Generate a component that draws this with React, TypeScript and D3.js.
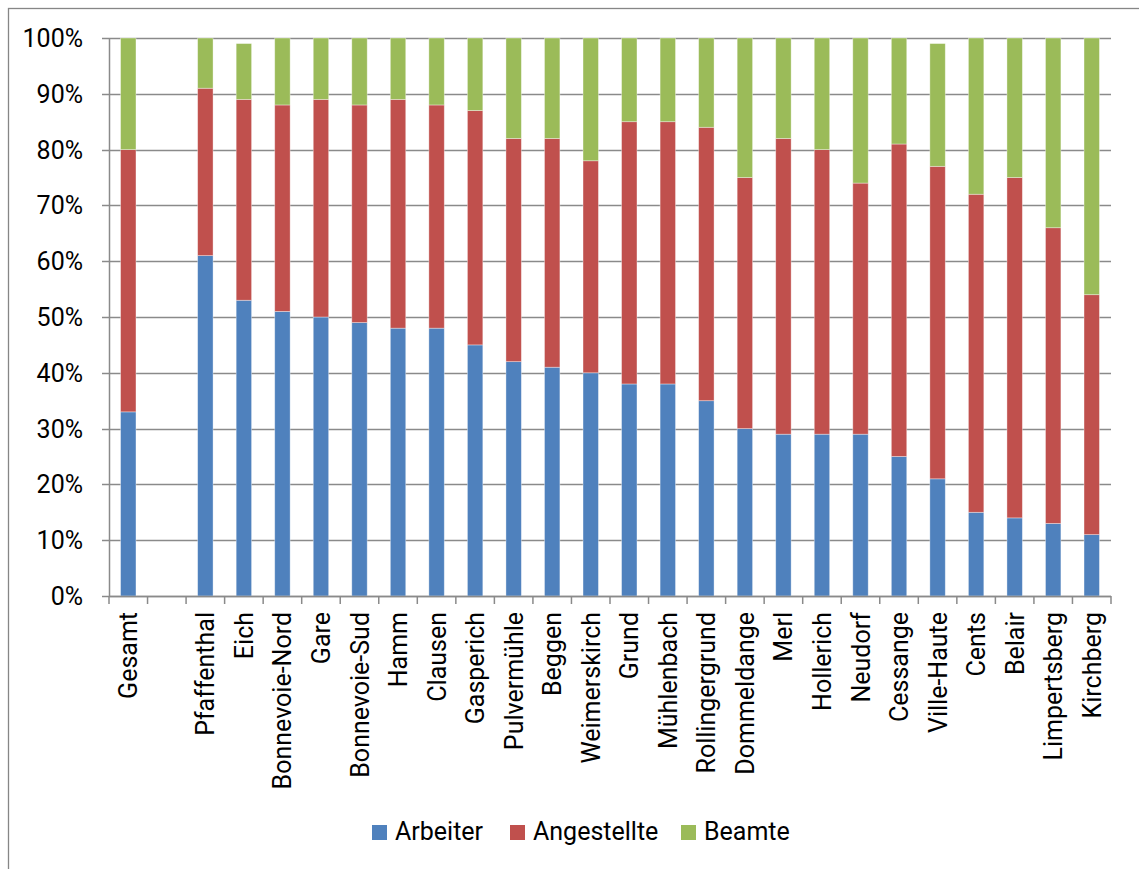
import React from "react";
import * as d3 from "d3";

const categories = ["Gesamt","","Pfaffenthal","Eich","Bonnevoie-Nord","Gare","Bonnevoie-Sud","Hamm","Clausen","Gasperich","Pulvermühle","Beggen","Weimerskirch","Grund","Mühlenbach","Rollingergrund","Dommeldange","Merl","Hollerich","Neudorf","Cessange","Ville-Haute","Cents","Belair","Limpertsberg","Kirchberg"];
const arbeiter = [33,null,61,53,51,50,49,48,48,45,42,41,40,38,38,35,30,29,29,29,25,21,15,14,13,11];
const angestellte = [47,null,30,36,37,39,39,41,40,42,40,41,38,47,47,49,45,53,51,45,56,56,57,61,53,43];
const beamte = [20,null,9,10,12,11,12,11,12,13,18,18,22,15,15,16,25,18,20,26,19,22,28,25,34,46];
const seriesNames = ["Arbeiter","Angestellte","Beamte"];
const seriesColors = ["#4F81BD","#C0504D","#9BBB59"];
const yTicks = [0,0.1,0.2,0.3,0.4,0.5,0.6,0.7,0.8,0.9,1];

const W = 1139, H = 869;
const left = 109, right = 1111, top = 38, bottom = 596;
const FONT = "Roboto, 'Liberation Sans', sans-serif";

export default function App() {
  const keys = categories.map((c, i) => c === "" ? `__gap${i}` : c);
  const x = d3.scaleBand<string>().domain(keys).range([left, right]).paddingInner(0.6).paddingOuter(0.3);
  const step = x.step();
  const y = d3.scaleLinear().domain([0, 1]).range([bottom, top]);
  const rows = categories.map((c, i) => ({
    key: keys[i],
    gap: arbeiter[i] == null,
    Arbeiter: (arbeiter[i] ?? 0) / 100,
    Angestellte: (angestellte[i] ?? 0) / 100,
    Beamte: (beamte[i] ?? 0) / 100,
  }));
  const stacked = d3.stack<any>().keys(seriesNames)(rows);
  const fmt = d3.format(".0%");
  const boundaries = d3.range(categories.length + 1).map(i => left + i * step);
  const legendX = [372, 510, 681];

  return (
    <svg width={W} height={H} style={{ position: "absolute", left: 0, top: 0, background: "#fff" }}>
      <rect x={8.5} y={8.5} width={1200} height={1000} fill="#fff" stroke="#868686" strokeWidth={1.3} />
      {yTicks.map(t => (
        <g key={t}>
          <line x1={left - 7} x2={right} y1={Math.round(y(t)) + 0.5} y2={Math.round(y(t)) + 0.5} stroke="#8a8a8a" strokeWidth={1.5} />
          <text x={83} y={y(t)} dy="0.36em" textAnchor="end" fontFamily={FONT} fontSize={25} fill="#000">{fmt(t)}</text>
        </g>
      ))}
      <line x1={left + 0.5} x2={left + 0.5} y1={top} y2={bottom} stroke="#8a8a8a" strokeWidth={1.5} />
      {stacked.map((s, si) => (
        <g key={s.key} fill={seriesColors[si]}>
          {s.map((d, i) => rows[i].gap ? null : (
            <rect key={i} x={x(rows[i].key)!} width={x.bandwidth()} y={y(d[1])} height={y(d[0]) - y(d[1])}
              stroke="#ffffff" strokeOpacity={0.45} strokeWidth={0.8} />
          ))}
        </g>
      ))}
      <line x1={left} x2={right} y1={bottom + 0.5} y2={bottom + 0.5} stroke="#8a8a8a" strokeWidth={1.5} />
      {boundaries.map((b, i) => (
        <line key={i} x1={b} x2={b} y1={bottom} y2={bottom + 8} stroke="#8a8a8a" strokeWidth={1.5} />
      ))}
      {categories.map((c, i) => c === "" ? null : (
        <text key={c} transform={`translate(${x(keys[i])! + x.bandwidth() / 2},612) rotate(-90)`} dy="0.36em"
          textAnchor="end" fontFamily={FONT} fontSize={25} fill="#000">{c}</text>
      ))}
      {seriesNames.map((n, i) => (
        <g key={n}>
          <rect x={legendX[i]} y={825} width={15} height={15} fill={seriesColors[i]} />
          <text x={legendX[i] + 23} y={840} fontFamily={FONT} fontSize={25} fill="#000">{n}</text>
        </g>
      ))}
    </svg>
  );
}
